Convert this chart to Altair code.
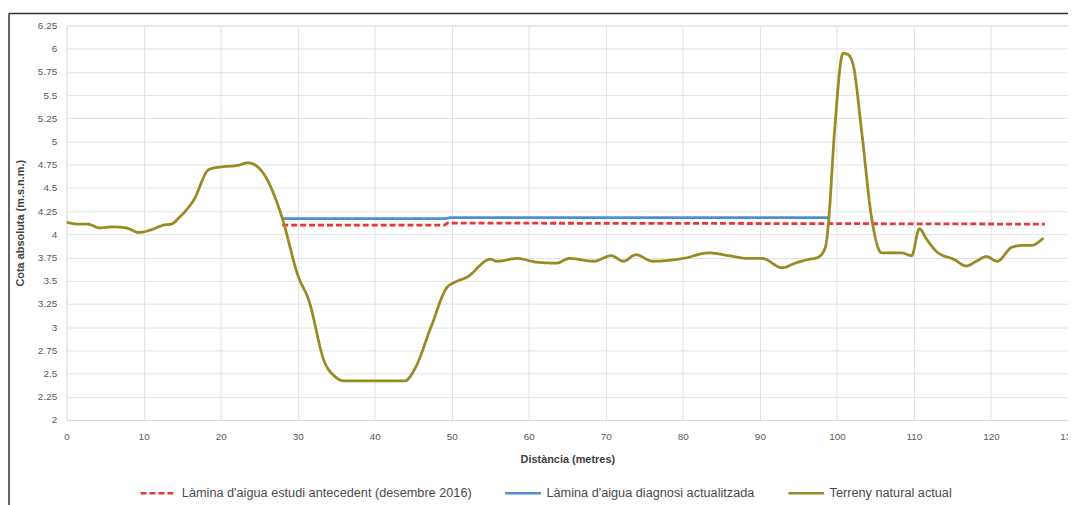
import altair as alt
import pandas as pd

# Terreny natural actual
terrain_x = [0, 1.5, 2.7, 4.3, 6, 7.7, 9.4, 11, 12.6, 13.6, 14.6, 16.5, 18.5, 20.4, 22, 23.6, 24.6, 25.9,
             27.9, 30.1, 31.4, 33.5, 34.8, 36.1, 40, 43.9, 45.2, 47.3, 49.4, 50.3, 52.0, 55.0, 55.9,
             58.5, 61.0, 63.6, 65.3, 68.4, 70.7, 72.3, 73.9, 76.1, 80.0, 83.4, 86.0, 88.5, 90.3, 92.9,
             94.6, 96.3, 97.5, 98.5, 98.9, 99.7, 100.8, 101.4, 102.1, 103.2, 104.5, 105.8, 106.6,
             108.4, 109.7, 110.7, 111.7, 113.0, 115.2, 116.8, 118.1, 119.4, 120.8, 122.7, 124.0,
             125.2, 126.8]
terrain_y = [4.13, 4.11, 4.11, 4.07, 4.08, 4.07, 4.02, 4.05, 4.10, 4.11, 4.18, 4.37, 4.70, 4.73, 4.74, 4.77,
             4.74, 4.61, 4.20, 3.54, 3.30, 2.62, 2.47, 2.42, 2.42, 2.42, 2.55, 3.00, 3.43, 3.48, 3.54,
             3.73, 3.71, 3.74, 3.70, 3.69, 3.74, 3.71, 3.77, 3.71, 3.78, 3.71, 3.74, 3.80, 3.77, 3.74,
             3.74, 3.64, 3.69, 3.73, 3.75, 3.86, 4.12, 5.12, 5.95, 5.94, 5.83, 5.12, 4.18, 3.80, 3.80,
             3.80, 3.77, 4.06, 3.94, 3.81, 3.73, 3.66, 3.71, 3.76, 3.71, 3.86, 3.88, 3.88, 3.96]

# Làmina d'aigua estudi antecedent (desembre 2016)
prev_x = [28, 49, 49.5, 127]
prev_y = [4.10, 4.10, 4.12, 4.11]

# Làmina d'aigua diagnosi actualitzada
diag_x = [28, 49, 50, 99]
diag_y = [4.17, 4.17, 4.18, 4.18]

series_names = ["Làmina d'aigua estudi antecedent (desembre 2016)",
                "Làmina d'aigua diagnosi actualitzada",
                "Terreny natural actual"]
series_colors = ["#e8343c", "#4e8fd0", "#9a8a26"]
series_dash = [[6, 3], [1, 0], [1, 0]]

y_ticks = [2 + 0.25 * i for i in range(18)]
x_ticks = list(range(0, 131, 10))

rows = []
for xs, ys, name in [(prev_x, prev_y, series_names[0]),
                     (diag_x, diag_y, series_names[1]),
                     (terrain_x, terrain_y, series_names[2])]:
    for i, (a, b) in enumerate(zip(xs, ys)):
        rows.append({"x": a, "y": b, "serie": name, "ord": i})
df = pd.DataFrame(rows)

FONT = "Liberation Sans, Arial, sans-serif"

x_enc = alt.X("x:Q", scale=alt.Scale(domain=[0, 130], nice=False),
              axis=alt.Axis(values=x_ticks, title="Distància (metres)", grid=True,
                            gridColor="#e3e3e3", domainColor="#d9d9d9", ticks=False,
                            labelColor="#595959", labelFontSize=10, labelPadding=12,
                            titleFontWeight="bold", titleFontSize=11, titleColor="#404040",
                            titlePadding=12, labelFlush=False))
y_enc = alt.Y("y:Q", scale=alt.Scale(domain=[2, 6.25], nice=False, zero=False),
              axis=alt.Axis(values=y_ticks, format=".2~f", title="Cota absoluta (m.s.n.m.)",
                            grid=True, gridColor="#e3e3e3", domain=False, ticks=False,
                            labelColor="#595959", labelFontSize=10, labelPadding=10,
                            titleFontWeight="bold", titleFontSize=11, titleColor="#404040",
                            titlePadding=12))

legend_cfg = dict(title=None, orient="none", direction="horizontal",
                  legendX=73, legendY=451, symbolType="stroke",
                  symbolSize=1300, symbolStrokeWidth=2.6,
                  labelFontSize=12.8, labelColor="#4a4a4a",
                  columnPadding=28, labelLimit=400)

lines = alt.Chart(df).mark_line(interpolate="monotone", strokeWidth=2.8).encode(
    x=x_enc, y=y_enc, order="ord:Q",
    color=alt.Color("serie:N", scale=alt.Scale(domain=series_names, range=series_colors),
                    legend=alt.Legend(**legend_cfg)),
    strokeDash=alt.StrokeDash("serie:N", scale=alt.Scale(domain=series_names, range=series_dash),
                              legend=alt.Legend(**legend_cfg)),
)

frame_df = pd.DataFrame({"a": [0]})
top_border = alt.Chart(frame_df).mark_rule(color="#333333", strokeWidth=1.5).encode(
    x=alt.value(-58), x2=alt.value(1010), y=alt.value(-12))
left_border = alt.Chart(frame_df).mark_rule(color="#333333", strokeWidth=1.5).encode(
    x=alt.value(-58), y=alt.value(-12), y2=alt.value(490))

chart = alt.layer(top_border, left_border, lines).properties(
    width=1008, height=397,
    autosize=alt.AutoSizeParams(type="none"),
    padding={"left": 59, "top": 16, "right": 0, "bottom": 88},
    background="white",
).configure_view(stroke=None).configure(font=FONT)

chart.save("out.html", embed_options={"renderer": "svg", "actions": False})
